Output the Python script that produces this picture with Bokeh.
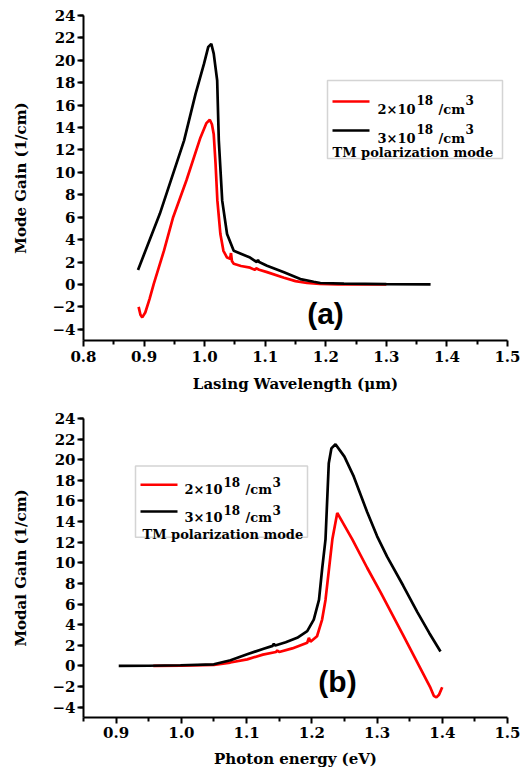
from bokeh.plotting import figure
from bokeh.layouts import column
from bokeh.models import (FixedTicker, Label, BoxAnnotation, Arrow)
from bokeh.embed import file_html
from bokeh.resources import INLINE

# ---------------- data: panel (a) ----------------
wl_red = [0.891, 0.894, 0.897, 0.902, 0.909, 0.916, 0.933, 0.948, 0.970, 0.993,
          1.003, 1.0085, 1.012, 1.015, 1.018, 1.021, 1.026, 1.031, 1.037, 1.042,
          1.0435, 1.045, 1.048, 1.060, 1.075, 1.083, 1.085, 1.090, 1.103, 1.131,
          1.150, 1.169, 1.190, 1.220, 1.260, 1.300]
gain_red_a = [-2.0, -2.7, -2.94, -2.5, -1.3, 0.06, 3.04, 6.0, 9.3, 13.1,
              14.4, 14.7, 14.3, 13.4, 10.8, 7.5, 4.5, 3.0, 2.4, 2.3,
              2.8, 2.1, 1.85, 1.65, 1.5, 1.3, 1.45, 1.32, 1.1, 0.6,
              0.3, 0.13, 0.04, 0.01, 0.0, 0.0]

wl_blk = [0.890, 0.926, 0.966, 0.985, 0.999, 1.006, 1.011, 1.015, 1.0207, 1.0234,
          1.029, 1.037, 1.048, 1.075, 1.086, 1.088, 1.090, 1.103, 1.131, 1.158,
          1.180, 1.191, 1.230, 1.300, 1.373]
gain_blk_a = [1.3, 6.3, 12.84, 17.0, 19.7, 21.2, 21.47, 20.6, 18.2, 12.84,
              7.48, 4.5, 3.0, 2.4, 2.0, 2.2, 2.0, 1.67, 1.08, 0.48,
              0.24, 0.13, 0.08, 0.03, 0.0]

# ---------------- data: panel (b) ----------------
en_red = [0.957, 1.000, 1.050, 1.075, 1.101, 1.125, 1.145, 1.147, 1.150, 1.170,
          1.193, 1.1955, 1.198, 1.208, 1.2158, 1.221, 1.2315, 1.239, 1.2621, 1.285,
          1.3053, 1.340, 1.382, 1.387, 1.391, 1.395, 1.3999]
gain_red_b = [0.0, 0.02, 0.1, 0.33, 0.64, 1.1, 1.35, 1.5, 1.35, 1.7,
              2.25, 2.73, 2.35, 2.88, 4.5, 6.4, 12.28, 14.84, 12.28, 9.5,
              7.16, 3.0, -2.13, -2.9, -3.05, -2.8, -2.06]

en_blk = [0.904, 0.950, 0.9987, 1.0498, 1.0754, 1.1009, 1.125, 1.140, 1.1418, 1.144,
          1.160, 1.1776, 1.193, 1.203, 1.211, 1.216, 1.221, 1.226, 1.230, 1.2363,
          1.250, 1.2644, 1.285, 1.300, 1.3154, 1.340, 1.362, 1.380, 1.3973]
gain_blk_b = [0.0, 0.02, 0.07, 0.16, 0.55, 1.13, 1.65, 1.95, 2.15, 1.98,
              2.3, 2.73, 3.37, 4.5, 6.4, 9.5, 12.28, 19.65, 21.1, 21.5,
              20.3, 18.36, 14.9, 12.6, 10.6, 7.8, 5.2, 3.2, 1.4]

xticks_a = [0.8, 0.9, 1.0, 1.1, 1.2, 1.3, 1.4, 1.5]
xticks_b = [0.9, 1.0, 1.1, 1.2, 1.3, 1.4, 1.5]
yticks = [-4, -2, 0, 2, 4, 6, 8, 10, 12, 14, 16, 18, 20, 22, 24]
legend_labels = ["2×10", "18", "/cm", "3", "3×10", "TM polarization mode"]

SERIF = "DejaVu Serif"
RED = "#ff0000"
BLACK = "#000000"
LEFT = 83


def make_fig(xr, yr, fw, fh, top, bottom, xticks, xlabel, ylabel, tick_standoff, lab_standoff):
    p = figure(width=LEFT + fw + 15, height=top + fh + bottom,
               x_range=xr, y_range=yr, output_backend="svg", toolbar_location=None,
               min_border_left=LEFT, min_border_right=15, min_border_top=top,
               min_border_bottom=bottom)
    p.outline_line_color = None
    p.xgrid.visible = False
    p.ygrid.visible = False
    p.background_fill_color = "white"
    p.border_fill_color = "white"
    minor_x = [round(t - 0.05, 3) for t in xticks] + [round(xticks[-1] + 0.05, 3)]
    p.xaxis.ticker = FixedTicker(ticks=xticks, minor_ticks=[m for m in minor_x if xr[0] <= m <= xr[1]])
    p.xaxis.major_label_overrides = {t: f"{t:.1f}" for t in xticks}
    p.yaxis.ticker = FixedTicker(ticks=yticks, minor_ticks=[v + 1 for v in range(-5, 24, 2)])
    for ax in (p.xaxis[0], p.yaxis[0]):
        ax.axis_line_width = 2
        ax.axis_line_color = "black"
        ax.major_tick_line_width = 2
        ax.minor_tick_line_width = 2
        ax.major_tick_in = 0
        ax.minor_tick_in = 0
        ax.major_tick_out = 6
        ax.minor_tick_out = 4
        ax.major_label_text_font = SERIF
        ax.major_label_text_font_style = "bold"
        ax.major_label_text_font_size = "15px"
        ax.major_label_text_color = "black"
        ax.axis_label_text_font = SERIF
        ax.axis_label_text_font_style = "bold"
        ax.axis_label_text_font_size = "15px"
        ax.axis_label_text_color = "black"
    p.xaxis.major_label_standoff = tick_standoff
    p.xaxis.axis_label_standoff = lab_standoff
    p.yaxis.major_label_standoff = 2
    p.yaxis.axis_label_standoff = 19
    p.xaxis.axis_label = xlabel
    p.yaxis.axis_label = ylabel
    return p


def add_legend(p, xr, yr, fw, fh, box, red_y, blk_y, line_x, txt_x, red_base, blk_base, sup_raise, tm_x, tm_base):
    def X(fx):
        return xr[0] + fx / fw * (xr[1] - xr[0])

    def Y(fy):
        return yr[1] - fy / fh * (yr[1] - yr[0])

    p.add_layout(BoxAnnotation(left=X(box[0]), right=X(box[1]), top=Y(box[2]), bottom=Y(box[3]),
                               fill_color="white", fill_alpha=1.0,
                               line_color="#707070", line_width=1.5))
    for col, fy in ((RED, red_y), (BLACK, blk_y)):
        p.add_layout(Arrow(x_start=X(line_x[0]), x_end=X(line_x[1]), y_start=Y(fy), y_end=Y(fy),
                           end=None, line_color=col, line_width=2.5))
    for main, base in ((legend_labels[0], red_base), (legend_labels[4], blk_base)):
        pieces = [(main, 0, 0, "13px"), (legend_labels[1], 39, sup_raise, "12px"),
                  (legend_labels[2], 61, 0, "13px"), (legend_labels[3], 88, sup_raise, "12px")]
        for txt, dx, dy, size in pieces:
            p.add_layout(Label(x=X(txt_x + dx), y=Y(base - dy), text=txt, text_font=SERIF,
                               text_font_style="bold", text_font_size=size, text_color="black",
                               text_baseline="alphabetic", text_align="left"))
    p.add_layout(Label(x=X(tm_x), y=Y(tm_base), text=legend_labels[5], text_font=SERIF,
                       text_font_style="bold", text_font_size="13px", text_color="black",
                       text_baseline="alphabetic", text_align="left"))


# ---------------- panel (a) ----------------
xr_a, yr_a = (0.8, 1.5), (-5, 24)
fw, fh_a = 424, 325
p1 = make_fig(xr_a, yr_a, fw, fh_a, 15, 70, xticks_a, "Lasing Wavelength (μm)",
              "Mode Gain (1/cm)", 4, 10)
p1.line(wl_red, gain_red_a, line_color=RED, line_width=2.7)
p1.line(wl_blk, gain_blk_a, line_color=BLACK, line_width=2.7)
add_legend(p1, xr_a, yr_a, fw, fh_a, box=(244, 419, 65, 143), red_y=86, blk_y=115,
           line_x=(249, 286), txt_x=294, red_base=94, blk_base=123, sup_raise=10,
           tm_x=249, tm_base=137)
p1.add_layout(Label(x=1.1995, y=-2.6, text="(a)", text_font="Liberation Sans",
                    text_font_style="bold", text_font_size="30px", text_color="black",
                    text_align="center", text_baseline="middle"))

# ---------------- panel (b) ----------------
xr_b, yr_b = (0.85, 1.5), (-5, 24)
fh_b = 302
p2 = make_fig(xr_b, yr_b, fw, fh_b, 8, 50, xticks_b, "Photon energy (eV)",
              "Modal Gain (1/cm)", 3, 9)
p2.line(en_red, gain_red_b, line_color=RED, line_width=2.7)
p2.line(en_blk, gain_blk_b, line_color=BLACK, line_width=2.7)
add_legend(p2, xr_b, yr_b, fw, fh_b, box=(52, 224, 48, 120), red_y=67, blk_y=94,
           line_x=(57, 94), txt_x=101, red_base=72, blk_base=100, sup_raise=8,
           tm_x=59, tm_base=117)
p2.add_layout(Label(x=1.2394, y=-1.46, text="(b)", text_font="Liberation Sans",
                    text_font_style="bold", text_font_size="30px", text_color="black",
                    text_align="center", text_baseline="middle"))

layout = column(p1, p2, spacing=0)
open("out.html", "w").write(file_html(layout, INLINE))
